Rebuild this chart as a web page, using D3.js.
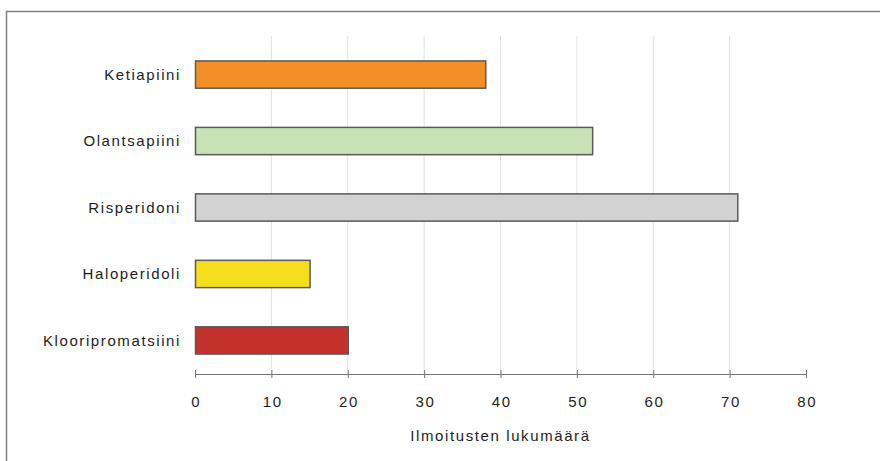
<!DOCTYPE html>
<html>
<head>
<meta charset="utf-8">
<script src="https://cdn.jsdelivr.net/npm/d3@7"></script>
<style>
  body { margin: 0; background: #fff; }
  svg { display: block; font-family: "Liberation Sans", Arial, sans-serif; }
</style>
</head>
<body>
<div id="chart"></div>
<script>
// Data
const drugs = ["Ketiapiini", "Olantsapiini", "Risperidoni", "Haloperidoli", "Klooripromatsiini"]
const counts = [38, 52, 71, 15, 20]
const barColors = ["#f38f27", "#c8e2b5", "#d2d2d2", "#f7de1c", "#c4302b"]
const xTicks = [0, 10, 20, 30, 40, 50, 60, 70, 80]
const xTitle = "Ilmoitusten lukumäärä"

const data = drugs.map((d, i) => ({ drug: d, count: counts[i], color: barColors[i] }))

// Dimensions
const dimensions = {
  width: 880,
  height: 461,
  margin: { top: 41, right: 74, bottom: 87, left: 195 },
}
dimensions.boundedWidth = dimensions.width - dimensions.margin.left - dimensions.margin.right
dimensions.boundedHeight = dimensions.height - dimensions.margin.top - dimensions.margin.bottom

const textStyle = sel => sel
  .attr("font-size", 15)
  .attr("letter-spacing", 1.6)
  .attr("fill", "#1e1e1e")

const wrapper = d3.select("#chart")
  .append("svg")
  .attr("width", dimensions.width)
  .attr("height", dimensions.height)

// frame (top + left only)
wrapper.append("path")
  .attr("d", "M6.5,461 V11.5 H880")
  .attr("fill", "none")
  .attr("stroke", "#808080")
  .attr("stroke-width", 1.5)

const bounds = wrapper.append("g")
  .attr("transform", `translate(${dimensions.margin.left},${dimensions.margin.top})`)

// Scales
const xScale = d3.scaleLinear()
  .domain([0, 80])
  .range([0, dimensions.boundedWidth])

const yScale = d3.scaleBand()
  .domain(drugs)
  .range([0, dimensions.boundedHeight])
  .paddingInner(0.59)
  .paddingOuter(0.3)

// Gridlines
bounds.selectAll(".grid")
  .data(xTicks.filter(t => t > 0 && t < 80))
  .join("line")
    .attr("x1", d => xScale(d))
    .attr("x2", d => xScale(d))
    .attr("y1", -5)
    .attr("y2", dimensions.boundedHeight)
    .attr("stroke", "#e2e2e2")
    .attr("stroke-width", 1)

// Bars
bounds.selectAll("rect")
  .data(data)
  .join("rect")
    .attr("x", xScale(0) + 0.5)
    .attr("y", d => yScale(d.drug))
    .attr("width", d => xScale(d.count) - xScale(0))
    .attr("height", yScale.bandwidth())
    .attr("fill", d => d.color)
    .attr("stroke", "#5a5a5a")
    .attr("stroke-width", 1.5)

// Category labels
bounds.selectAll(".label")
  .data(data)
  .join("text")
    .attr("x", -14)
    .attr("y", d => yScale(d.drug) + yScale.bandwidth() / 2)
    .attr("dy", "0.35em")
    .attr("text-anchor", "end")
    .call(textStyle)
    .text(d => d.drug)

// X axis
const xAxisGenerator = d3.axisBottom(xScale)
  .tickValues(xTicks)
  .tickSize(0)
  .tickPadding(22)
  .tickFormat(d3.format("d"))

const xAxis = bounds.append("g")
  .attr("transform", `translate(0,${dimensions.boundedHeight})`)
  .call(xAxisGenerator)

xAxis.select(".domain").attr("stroke", "#777").attr("stroke-width", 1.2)
xAxis.selectAll(".tick text").call(textStyle)
  .attr("dx", 0.8)
  .attr("font-family", "'Liberation Sans', Arial, sans-serif")
xAxis.selectAll(".tick").append("line")
  .attr("y1", -4).attr("y2", 4)
  .attr("stroke", "#777")

// Axis title
bounds.append("text")
  .attr("x", xScale(40))
  .attr("y", dimensions.boundedHeight + 67)
  .attr("text-anchor", "middle")
  .call(textStyle)
  .text(xTitle)
</script>
</body>
</html>
